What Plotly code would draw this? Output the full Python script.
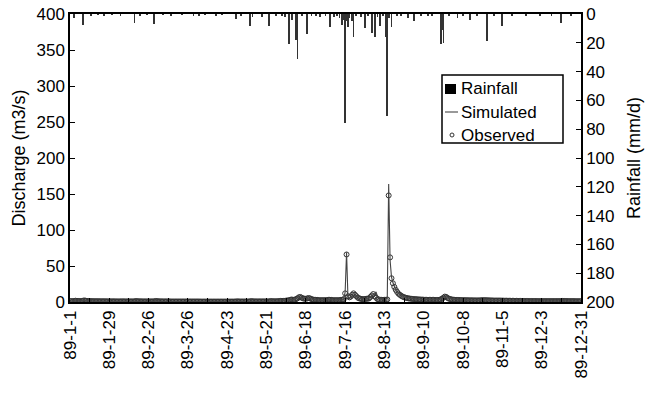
import pandas as pd
import plotly.graph_objects as go

START = pd.Timestamp("1989-01-01")

# x-axis tick positions (day offsets from 1989-01-01) and labels
tick_days = [0, 28, 56, 84, 112, 140, 168, 196, 224, 252, 280, 308, 336, 364]
tick_labels = ["89-1-1", "89-1-29", "89-2-26", "89-3-26", "89-4-23", "89-5-21",
               "89-6-18", "89-7-16", "89-8-13", "89-9-10", "89-10-8", "89-11-5",
               "89-12-3", "89-12-31"]

# Daily rainfall (mm/d): day offset and depth
rain_days = [3, 9, 15, 20, 24, 30, 36, 46, 50, 55, 60, 66, 72, 80, 88, 92, 96, 104, 108,
             118, 122, 128, 130, 137, 142, 147, 151, 153, 156, 158, 161, 162, 165, 169,
             172, 175, 178, 182, 185, 188, 190, 192, 194, 195, 196, 197, 198, 199, 201,
             202, 204, 207, 210, 212, 215, 217, 219, 221, 223, 225, 226, 227, 229, 233,
             236, 241, 245, 250, 255, 258, 264, 265, 266, 270, 276, 280, 285, 290, 297,
             302, 308, 315, 325, 335, 343, 350, 357]
rain_mm = [3, 7.6, 0.8, 0.6, 0.8, 0.5, 1.5, 6, 0.8, 0.6, 7, 0.6, 0.8, 0.5, 0.7, 0.8, 0.6, 0.7, 0.6,
           3.7, 0.8, 8.3, 2, 2, 8, 1, 1.5, 2, 21, 4, 18, 31.5, 1.5, 14,
           1, 1.5, 2, 1, 9, 2, 1.5, 3, 7.6, 4, 76, 5, 9, 2.5, 5,
           15.7, 1.5, 2, 10, 1, 13, 16, 2, 8, 1.5, 15.7, 71, 3, 9, 1,
           1.5, 3, 5, 1, 1.5, 1, 21, 11, 20, 1, 3, 1, 4, 1, 18.5,
           1, 8.5, 0.8, 1, 0.8, 1, 6.5, 0.8]

# Simulated discharge (m3/s): day offset and value
sim_days = [0, 3, 4, 6, 9, 10, 12, 20, 36, 46, 47, 50, 60, 61, 64, 90, 118, 119, 128, 129,
            132, 142, 143, 146, 150, 156, 157, 160, 162, 163, 165, 167, 169, 170, 172, 175,
            180, 185, 186, 188, 194, 195, 196, 197, 198, 199, 201, 202, 203, 205, 208, 212,
            215, 217, 218, 219, 221, 224, 225, 226, 227, 228, 229, 230, 231, 232, 233, 234,
            235, 236, 237, 238, 240, 243, 246, 250, 255, 260, 263, 264, 266, 268, 270, 273,
            278, 285, 290, 297, 300, 310, 320, 340, 350, 351, 354, 364]
sim_q = [1.2, 1.3, 2.2, 1.4, 1.5, 2.6, 1.5, 1.1, 0.9, 0.9, 1.6, 1.0, 0.9, 1.7, 0.9, 0.7, 0.6, 1.0, 0.8, 1.5,
         0.8, 0.9, 1.6, 1.0, 1.4, 2.5, 3.5, 3, 5.5, 7.5, 6, 4.5, 5, 5.8, 4.5, 3,
         2.5, 3, 3.5, 2.6, 3, 4, 14, 69, 6, 5.5, 8, 10, 9, 6, 4.5, 4.5,
         8, 11, 14, 8, 5, 3.5, 4, 6, 164, 58, 35, 27, 21, 17, 14, 12,
         10.5, 9, 8, 7, 6, 5, 4.3, 3.8, 3.4, 3.0, 3.2, 4.5, 7, 8.7, 6, 4,
         3, 2.8, 2.5, 3.5, 2.6, 2, 1.6, 1.3, 1.3, 1.8, 1.3, 1.2]

# Observed daily discharge (m3/s), three consecutive segments
obs_early_start = 0
obs_early = [1.2, 1.2, 1.2, 1.3, 1.8, 1.6, 1.4, 1.3, 1.3, 1.5,
             2.2, 1.8, 1.5, 1.4, 1.3, 1.2, 1.2, 1.1, 1.1, 1.1,
             1.1, 1.0, 1.0, 1.0, 1.0, 1.0, 0.9, 0.9, 0.9, 0.9,
             0.9, 0.9, 0.9, 0.8, 0.8, 0.8, 0.8, 0.9, 0.9, 0.8,
             0.8, 0.8, 0.8, 0.8, 0.8, 0.8, 0.9, 1.3, 1.1, 1.0,
             0.9, 0.9, 0.8, 0.8, 0.8, 0.8, 0.8, 0.8, 0.8, 0.8,
             0.9, 1.4, 1.2, 1.0, 0.9, 0.9, 0.8, 0.8, 0.8, 0.8,
             0.8, 0.8, 0.7, 0.7, 0.7, 0.7, 0.7, 0.7, 0.7, 0.7,
             0.7, 0.7, 0.7, 0.7, 0.7, 0.7, 0.7, 0.7, 0.7, 0.7,
             0.7, 0.7, 0.7, 0.6, 0.6, 0.6, 0.6, 0.6, 0.6, 0.6,
             0.6, 0.6, 0.6, 0.6, 0.6, 0.6, 0.6, 0.6, 0.6, 0.6,
             0.6, 0.6, 0.6, 0.6, 0.6, 0.6, 0.6, 0.6, 0.7, 0.9,
             0.8, 0.7, 0.7, 0.7, 0.7, 0.7, 0.7, 0.7, 0.8, 1.2,
             1.0, 0.9, 0.8, 0.8, 0.8, 0.8, 0.8, 0.8, 0.8, 0.8,
             0.8, 0.8, 0.9, 1.3, 1.1, 1.0, 1.0, 1.0, 1.1, 1.3]
obs_wet_start = 150
obs_wet = [1.5, 1.5, 1.5, 1.5, 2, 2,
           2.5, 3, 3.5, 3, 3, 4,
           5, 6.5, 7, 6, 5, 4.5,
           4.5, 5, 5.5, 5, 4, 3.5,
           3, 3, 3, 2.5, 2.5, 2.5,
           2.5, 2.5, 2.5, 2.5, 3, 3,
           3, 2.5, 2.5, 2.5, 2.5, 2.5,
           2.5, 3, 3, 4, 12, 66,
           8, 6.5, 7.5, 10, 12, 10,
           8, 6, 5, 4.5, 4, 4,
           4, 4.5, 4.5, 5, 7, 9,
           11, 8, 6, 4, 3.5, 3,
           3, 3, 3, 3, 3.5, 148,
           62, 33, 26, 21, 17, 14,
           11.5, 10, 8.5, 7.5, 6.5, 6,
           5.5, 5, 4.8, 4.5, 4.2, 4,
           4, 3.8, 3.6, 3.5, 3.4, 3.3,
           3.2, 3.1, 3, 3, 3, 3,
           3, 3, 2.8, 2.8, 2.8, 3,
           3.5, 4.5, 6, 7.5, 7, 5.5,
           4.5, 4, 3.5, 3.2, 3, 3,
           2.8, 2.8, 2.7, 2.6, 2.5, 2.5,
           2.5, 2.4, 2.4, 2.3, 2.3, 2.3,
           2.2, 2.2, 2.2, 2.2, 2.2, 2.5,
           2.5, 2.5, 2.5, 2.4, 2.3, 2.2,
           2.2, 2.1, 2, 2, 2, 2,
           2, 2, 1.9, 1.9, 1.8]
obs_late_start = 311
obs_late = [1.8, 1.8, 1.7, 1.7, 1.7, 1.6, 1.6, 1.6, 1.5, 1.5,
            1.5, 1.5, 1.4, 1.4, 1.4, 1.4, 1.3, 1.3, 1.3, 1.3,
            1.3, 1.3, 1.2, 1.2, 1.2, 1.2, 1.2, 1.2, 1.2, 1.2,
            1.2, 1.2, 1.2, 1.2, 1.2, 1.2, 1.2, 1.2, 1.2, 1.2,
            1.5, 1.4, 1.3, 1.3, 1.2, 1.2, 1.2, 1.2, 1.2, 1.1,
            1.1, 1.1, 1.1, 1.1]


def to_dates(days):
    return [START + pd.Timedelta(days=int(d)) for d in days]


obs_days, obs_q = [], []
for s, seg in [(obs_early_start, obs_early), (obs_wet_start, obs_wet), (obs_late_start, obs_late)]:
    obs_days += [s + i for i in range(len(seg))]
    obs_q += seg

FONT = "Liberation Sans, Arial, sans-serif"
DAY_MS = 86400000

fig = go.Figure()
fig.add_trace(go.Scatter(x=to_dates(obs_days), y=obs_q, mode="markers", name="Observed",
                         marker=dict(symbol="circle-open", size=5, color="#333",
                                     line=dict(width=1, color="#333")),
                         showlegend=False))
fig.add_trace(go.Scatter(x=to_dates(sim_days), y=sim_q, mode="lines", name="Simulated",
                         line=dict(color="#444", width=1.1), showlegend=False))
fig.add_trace(go.Bar(x=to_dates(rain_days), y=rain_mm, yaxis="y2", name="Rainfall",
                     marker=dict(color="#333", line=dict(width=0)),
                     width=0.6 * DAY_MS, showlegend=False))

# plot-area edges in window pixels (page body margin is removed below)
W, H = 652, 395
PL, PR, PT, PB = 70, 581, 14, 302


def px(x):
    return (x - PL) / (PR - PL)


def py(y):
    return (PB - y) / (PB - PT)


shapes = [
    dict(type="rect", xref="paper", yref="paper", x0=px(442), x1=px(563), y0=py(143), y1=py(75),
         line=dict(color="black", width=1.5), fillcolor="white", layer="above"),
    dict(type="rect", xref="paper", yref="paper", x0=px(445), x1=px(456), y0=py(94), y1=py(84),
         line=dict(width=0), fillcolor="black", layer="above"),
    dict(type="line", xref="paper", yref="paper", x0=px(445), x1=px(458), y0=py(112), y1=py(112),
         line=dict(color="#555", width=1.2), layer="above"),
    dict(type="circle", xref="paper", yref="paper", x0=px(450), x1=px(454), y0=py(137), y1=py(133),
         line=dict(color="#333", width=1), fillcolor="white", layer="above"),
]
annotations = []
for label, yy in [("Rainfall", 89), ("Simulated", 112), ("Observed", 135)]:
    annotations.append(dict(text=label, xref="paper", yref="paper", x=px(459), y=py(yy),
                            xanchor="left", yanchor="middle", showarrow=False,
                            font=dict(family=FONT, size=17, color="black")))

fig.update_layout(
    width=W, height=H,
    margin=dict(l=PL, r=W - PR, t=PT, b=H - PB, autoexpand=False),
    paper_bgcolor="white", plot_bgcolor="white",
    font=dict(family=FONT, size=17, color="black"),
    bargap=0,
    shapes=shapes, annotations=annotations,
    xaxis=dict(type="date", range=[START, START + pd.Timedelta(days=364)],
               tickvals=to_dates(tick_days), ticktext=tick_labels, tickangle=-90,
               ticks="inside", ticklen=4, tickcolor="black",
               minor=dict(ticks="inside", ticklen=4, dtick=14 * DAY_MS,
                          tick0=START, tickcolor="black"),
               showline=True, linecolor="black", linewidth=1.5, mirror=True,
               showgrid=False, zeroline=False, tickfont=dict(size=17),
               ticklabeloverflow="allow"),
    yaxis=dict(range=[0, 400], dtick=50, ticks="inside", ticklen=5, tickcolor="black",
               showline=True, linecolor="black", linewidth=1.5, showgrid=False,
               zeroline=False, title=dict(text="Discharge (m3/s)", font=dict(size=18), standoff=6),
               tickfont=dict(size=17), ticklabeloverflow="allow"),
    yaxis2=dict(range=[200, 0], dtick=20, overlaying="y", side="right",
                ticks="inside", ticklen=5, tickcolor="black",
                showline=True, linecolor="black", linewidth=1.5, showgrid=False,
                zeroline=False, title=dict(text="Rainfall (mm/d)", font=dict(size=18), standoff=14),
                tickfont=dict(size=17), ticklabeloverflow="allow"),
)

fig.write_html("out.html", config={"displayModeBar": False},
               post_script="document.body.style.margin='0';document.body.style.overflow='hidden';")
